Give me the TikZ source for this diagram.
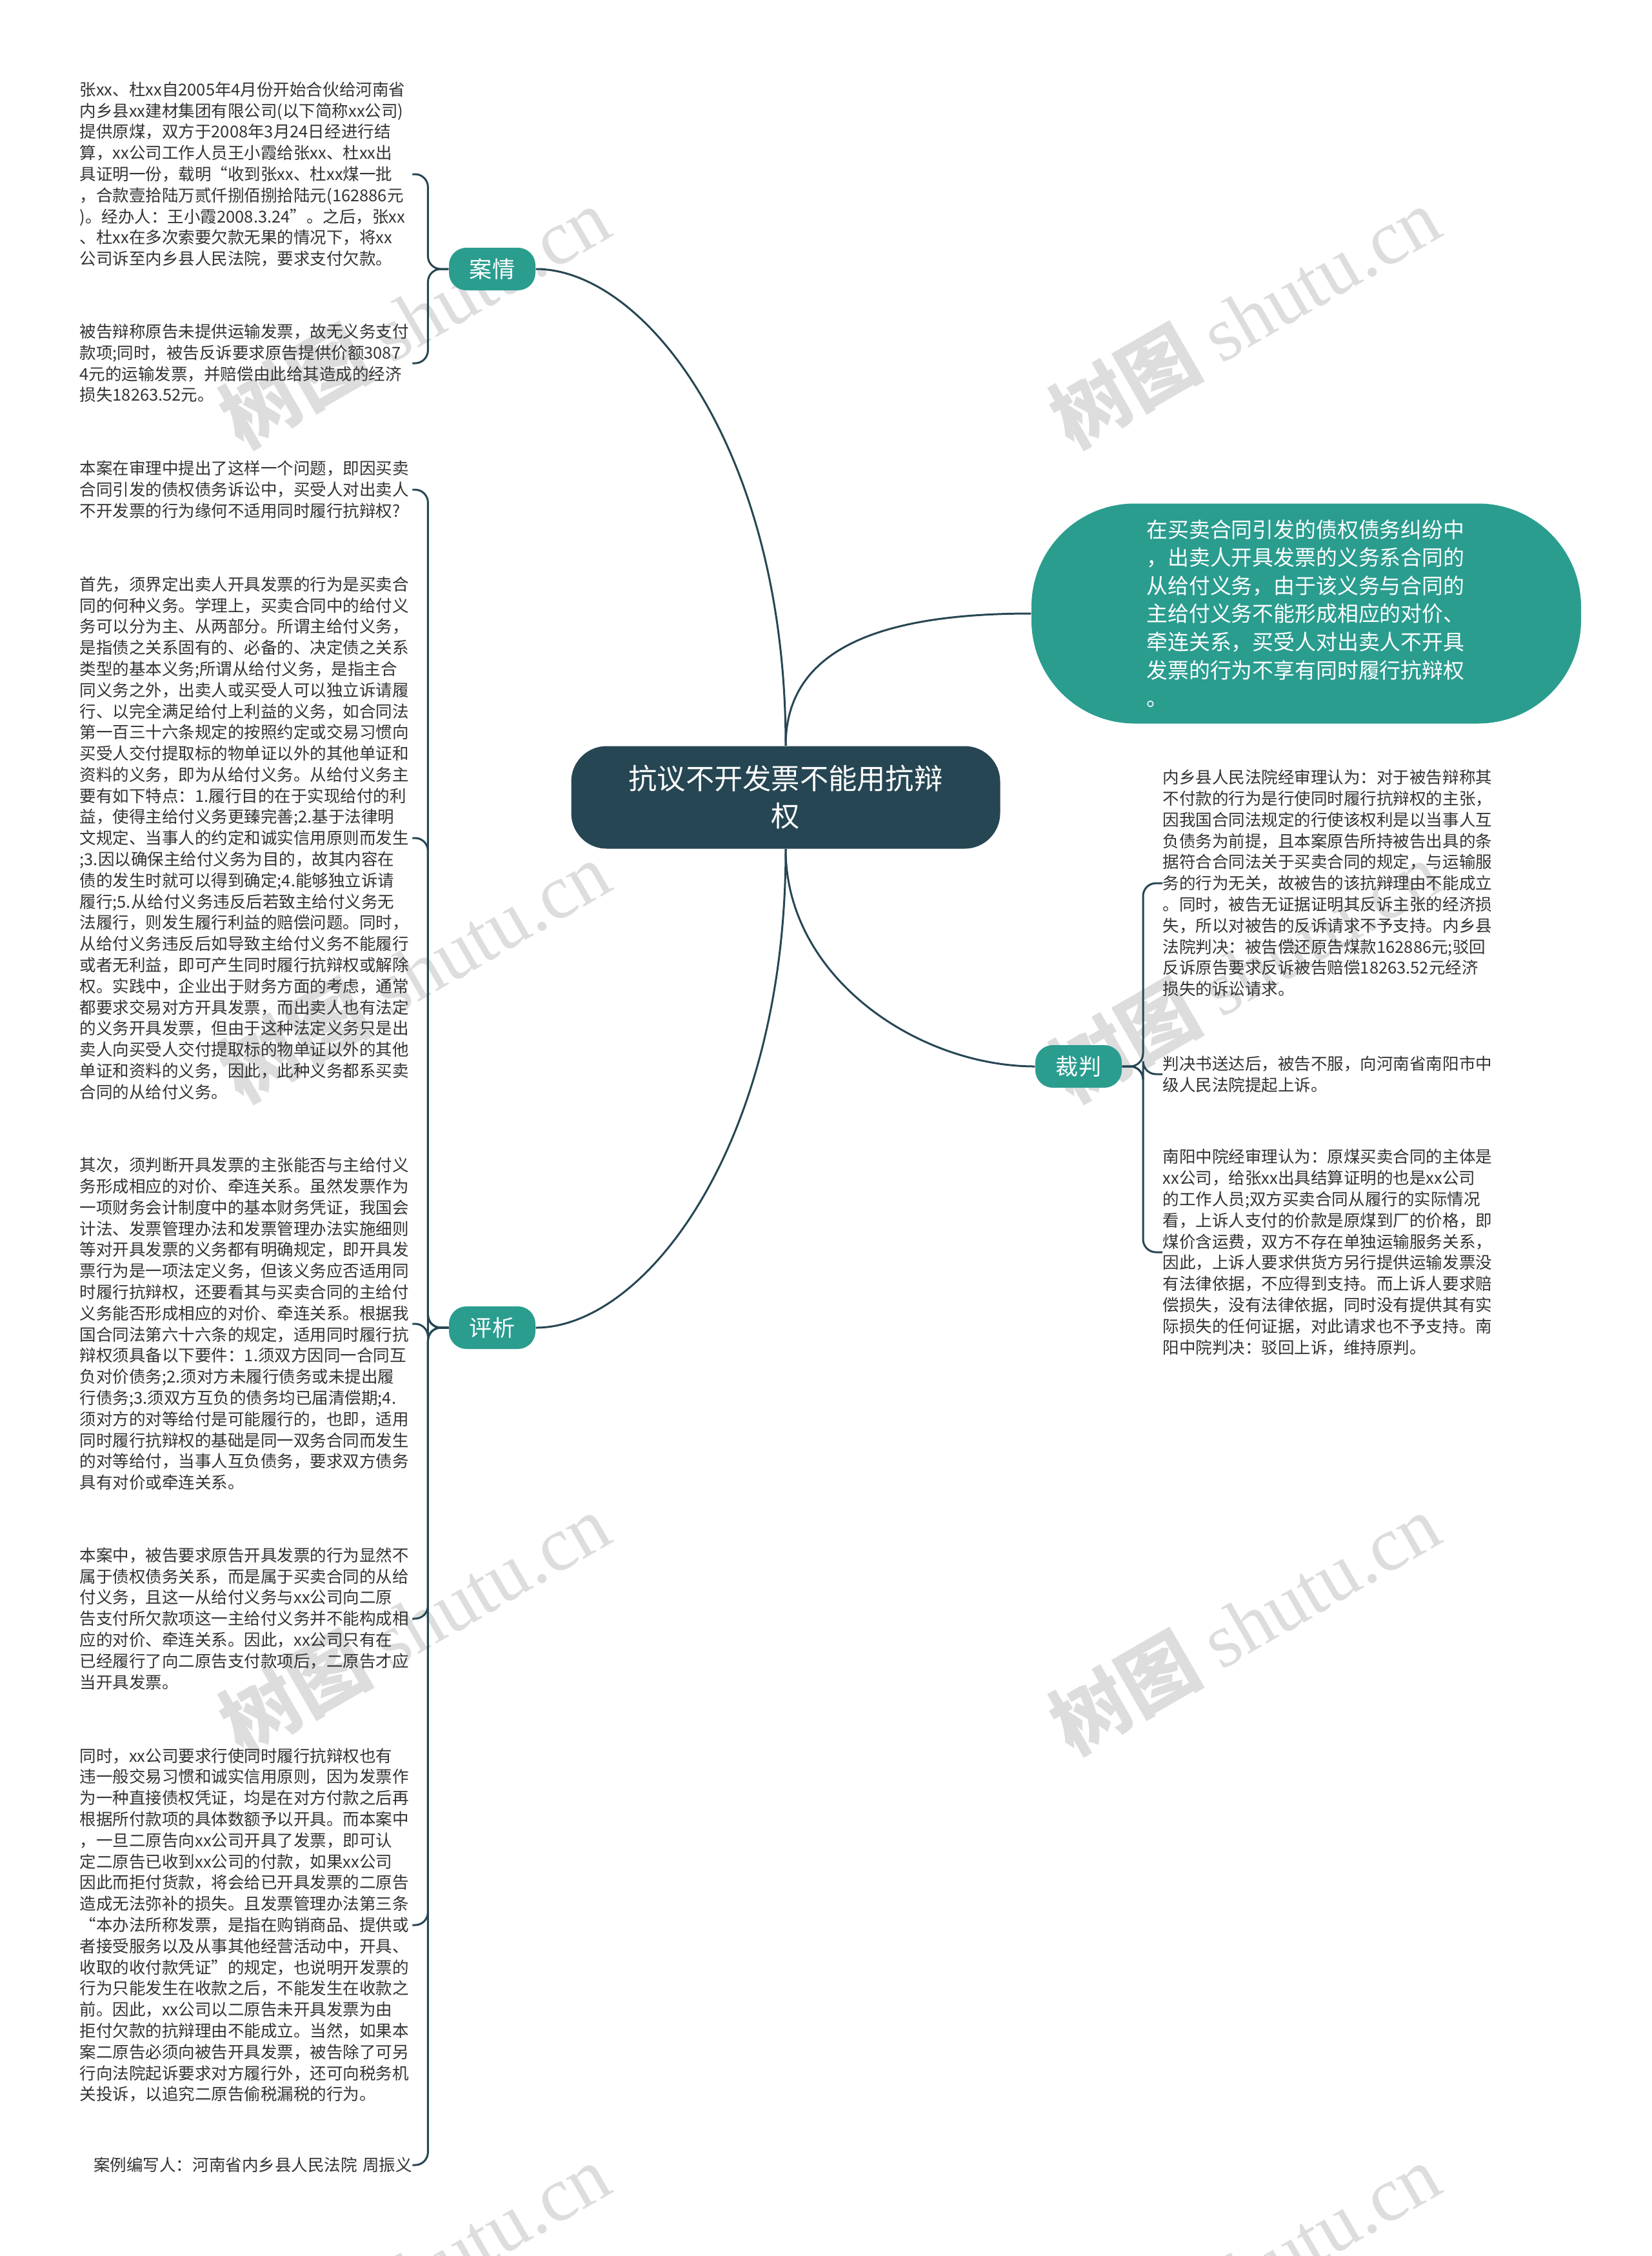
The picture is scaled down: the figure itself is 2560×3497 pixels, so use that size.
\documentclass[tikz,border=0pt]{standalone}
\usepackage{fontspec}
\setmainfont{Noto Sans CJK SC}
\newfontfamily\wmfont{Liberation Serif}
\usetikzlibrary{calc}

\definecolor{rootblue}{HTML}{264653}
\definecolor{mmteal}{HTML}{2A9D8F}
\definecolor{linkblue}{HTML}{264653}
\definecolor{leaftext}{HTML}{333333}
\definecolor{wmgray}{HTML}{BDBDBD}

\begin{document}
\begin{tikzpicture}[x=0.1mm,y=-0.1mm]

% Stili della mappa
\tikzset{
  root/.style={fill=rootblue, rounded corners=5.5mm, text=white, align=center,
    minimum width=66.5mm, minimum height=15.9mm, font=\fontsize{12.6}{16.5}\selectfont},
  branch/.style={fill=mmteal, rounded corners=2.7mm, text=white,
    minimum width=13.4mm, minimum height=6.6mm, font=\fontsize{10}{12}\selectfont},
  bubble/.style={fill=mmteal, rounded corners=16mm, text=white, text width=49.5mm, align=left,
    minimum width=85.2mm, minimum height=34.1mm, font=\fontsize{9.35}{12.4}\selectfont},
  leaf/.style={inner sep=0pt, text width=51.5mm, align=left, text=leaftext,
    font=\fontsize{7.26}{9.33}\selectfont},
  link/.style={draw=linkblue, line width=0.85pt},
  wmark/.style={text=wmgray, opacity=0.5, rotate=30, font=\fontsize{34}{34}\selectfont}
}

\useasboundingbox[fill=white] (0,0) rectangle (2560,3497);

% Filigrana (sotto tutto)
\foreach \wx in {642,1929}
  \foreach \wy in {491,1505,2516,3524}
    \node[wmark] at (\wx,\wy) {\bfseries 树图 {\wmfont\mdseries shutu.cn}};

% --- Nodo centrale e rami ---
\node[root] (root) at (1218,1236) {抗议不开发票不能用抗辩\\权};
\node[branch] (aq) at (763,417) {案情};
\node[branch] (pj) at (763,2058) {评析};
\node[branch] (cp) at (1672,1653) {裁判};
\node[bubble] (summary) at (2025,951) {在买卖合同引发的债权债务纠纷中\\
，出卖人开具发票的义务系合同的\\
从给付义务，由于该义务与合同的\\
主给付义务不能形成相应的对价、\\
牵连关系，买受人对出卖人不开具\\
发票的行为不享有同时履行抗辩权\\
。};

\draw[link] (root.north) .. controls +(0,-457) and +(170,0) .. (aq.east);
\draw[link] (root.south) .. controls +(0,457) and +(170,0) .. (pj.east);
\draw[link] (root.north) .. controls +(0,-157) and +(-220,0) .. (summary.west);
\draw[link] (root.south) .. controls +(0,200) and +(-180,0) .. (cp.west);

% --- Foglie: 案情 ---
\node[leaf, anchor=west] (a1) at (123,270) {张xx、杜xx自2005年4月份开始合伙给河南省\\
内乡县xx建材集团有限公司(以下简称xx公司)\\
提供原煤，双方于2008年3月24日经进行结\\
算，xx公司工作人员王小霞给张xx、杜xx出\\
具证明一份，载明“收到张xx、杜xx煤一批\\
，合款壹拾陆万贰仟捌佰捌拾陆元(162886元\\
)。经办人：王小霞2008.3.24”。之后，张xx\\
、杜xx在多次索要欠款无果的情况下，将xx\\
公司诉至内乡县人民法院，要求支付欠款。};
\node[leaf, anchor=west] (a2) at (123,563) {被告辩称原告未提供运输发票，故无义务支付\\
款项;同时，被告反诉要求原告提供价额3087\\
4元的运输发票，并赔偿由此给其造成的经济\\
损失18263.52元。};

% --- Foglie: 评析 ---
\node[leaf, anchor=west] (p1) at (123,759) {本案在审理中提出了这样一个问题，即因买卖\\
合同引发的债权债务诉讼中，买受人对出卖人\\
不开发票的行为缘何不适用同时履行抗辩权?};
\node[leaf, anchor=west] (p2) at (123,1299) {首先，须界定出卖人开具发票的行为是买卖合\\
同的何种义务。学理上，买卖合同中的给付义\\
务可以分为主、从两部分。所谓主给付义务，\\
是指债之关系固有的、必备的、决定债之关系\\
类型的基本义务;所谓从给付义务，是指主合\\
同义务之外，出卖人或买受人可以独立诉请履\\
行、以完全满足给付上利益的义务，如合同法\\
第一百三十六条规定的按照约定或交易习惯向\\
买受人交付提取标的物单证以外的其他单证和\\
资料的义务，即为从给付义务。从给付义务主\\
要有如下特点：1.履行目的在于实现给付的利\\
益，使得主给付义务更臻完善;2.基于法律明\\
文规定、当事人的约定和诚实信用原则而发生\\
;3.因以确保主给付义务为目的，故其内容在\\
债的发生时就可以得到确定;4.能够独立诉请\\
履行;5.从给付义务违反后若致主给付义务无\\
法履行，则发生履行利益的赔偿问题。同时，\\
从给付义务违反后如导致主给付义务不能履行\\
或者无利益，即可产生同时履行抗辩权或解除\\
权。实践中，企业出于财务方面的考虑，通常\\
都要求交易对方开具发票，而出卖人也有法定\\
的义务开具发票，但由于这种法定义务只是出\\
卖人向买受人交付提取标的物单证以外的其他\\
单证和资料的义务，因此，此种义务都系买卖\\
合同的从给付义务。};
\node[leaf, anchor=west] (p3) at (123,2052) {其次，须判断开具发票的主张能否与主给付义\\
务形成相应的对价、牵连关系。虽然发票作为\\
一项财务会计制度中的基本财务凭证，我国会\\
计法、发票管理办法和发票管理办法实施细则\\
等对开具发票的义务都有明确规定，即开具发\\
票行为是一项法定义务，但该义务应否适用同\\
时履行抗辩权，还要看其与买卖合同的主给付\\
义务能否形成相应的对价、牵连关系。根据我\\
国合同法第六十六条的规定，适用同时履行抗\\
辩权须具备以下要件：1.须双方因同一合同互\\
负对价债务;2.须对方未履行债务或未提出履\\
行债务;3.须双方互负的债务均已届清偿期;4.\\
须对方的对等给付是可能履行的，也即，适用\\
同时履行抗辩权的基础是同一双务合同而发生\\
的对等给付，当事人互负债务，要求双方债务\\
具有对价或牵连关系。};
\node[leaf, anchor=west] (p4) at (123,2509) {本案中，被告要求原告开具发票的行为显然不\\
属于债权债务关系，而是属于买卖合同的从给\\
付义务，且这一从给付义务与xx公司向二原\\
告支付所欠款项这一主给付义务并不能构成相\\
应的对价、牵连关系。因此，xx公司只有在\\
已经履行了向二原告支付款项后，二原告才应\\
当开具发票。};
\node[leaf, anchor=west] (p5) at (123,2984) {同时，xx公司要求行使同时履行抗辩权也有\\
违一般交易习惯和诚实信用原则，因为发票作\\
为一种直接债权凭证，均是在对方付款之后再\\
根据所付款项的具体数额予以开具。而本案中\\
，一旦二原告向xx公司开具了发票，即可认\\
定二原告已收到xx公司的付款，如果xx公司\\
因此而拒付货款，将会给已开具发票的二原告\\
造成无法弥补的损失。且发票管理办法第三条\\
“本办法所称发票，是指在购销商品、提供或\\
者接受服务以及从事其他经营活动中，开具、\\
收取的收付款凭证”的规定，也说明开发票的\\
行为只能发生在收款之后，不能发生在收款之\\
前。因此，xx公司以二原告未开具发票为由\\
拒付欠款的抗辩理由不能成立。当然，如果本\\
案二原告必须向被告开具发票，被告除了可另\\
行向法院起诉要求对方履行外，还可向税务机\\
关投诉，以追究二原告偷税漏税的行为。};
\node[leaf, anchor=west, align=right] (p6) at (123,3356) {案例编写人：河南省内乡县人民法院 周振义};

% --- Foglie: 裁判 ---
\node[leaf, anchor=west] (j1) at (1802,1369) {内乡县人民法院经审理认为：对于被告辩称其\\
不付款的行为是行使同时履行抗辩权的主张，\\
因我国合同法规定的行使该权利是以当事人互\\
负债务为前提，且本案原告所持被告出具的条\\
据符合合同法关于买卖合同的规定，与运输服\\
务的行为无关，故被告的该抗辩理由不能成立\\
。同时，被告无证据证明其反诉主张的经济损\\
失，所以对被告的反诉请求不予支持。内乡县\\
法院判决：被告偿还原告煤款162886元;驳回\\
反诉原告要求反诉被告赔偿18263.52元经济\\
损失的诉讼请求。};
\node[leaf, anchor=west] (j2) at (1802,1665) {判决书送达后，被告不服，向河南省南阳市中\\
级人民法院提起上诉。};
\node[leaf, anchor=west] (j3) at (1802,1941) {南阳中院经审理认为：原煤买卖合同的主体是\\
xx公司，给张xx出具结算证明的也是xx公司\\
的工作人员;双方买卖合同从履行的实际情况\\
看，上诉人支付的价款是原煤到厂的价格，即\\
煤价含运费，双方不存在单独运输服务关系，\\
因此，上诉人要求供货方另行提供运输发票没\\
有法律依据，不应得到支持。而上诉人要求赔\\
偿损失，没有法律依据，同时没有提供其有实\\
际损失的任何证据，对此请求也不予支持。南\\
阳中院判决：驳回上诉，维持原判。};

% Collegamenti verso le foglie
\foreach \leafname in {a1,a2}
  \draw[link, rounded corners=2mm] (aq.west) -| ($(\leafname.east)+(24,0)$) -- (\leafname.east);
\foreach \leafname in {p1,p2,p3,p4,p5,p6}
  \draw[link, rounded corners=2mm] (pj.west) -| ($(\leafname.east)+(24,0)$) -- (\leafname.east);
\foreach \leafname in {j1,j2,j3}
  \draw[link, rounded corners=2mm] (cp.east) -| ($(\leafname.west)+(-30,0)$) -- (\leafname.west);

\end{tikzpicture}
\end{document}
